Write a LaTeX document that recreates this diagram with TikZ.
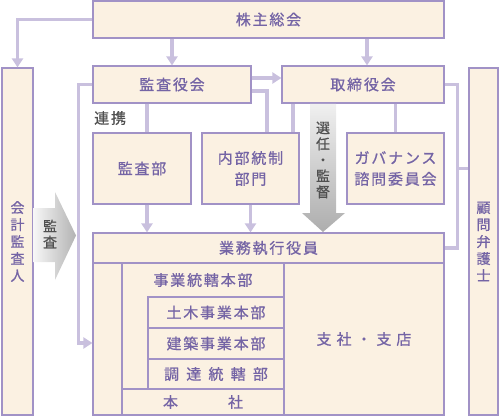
\documentclass[tikz,border=0pt]{standalone}
\usepackage{fontspec}
\newfontfamily\jp[LetterSpace=12, FakeBold=0.8]{Noto Sans CJK JP}
\newfontfamily\jpwide[LetterSpace=33, FakeBold=0.8]{Noto Sans CJK JP}
\newfontfamily\jpwider[LetterSpace=48, FakeBold=0.8]{Noto Sans CJK JP}
\usetikzlibrary{arrows.meta}
\definecolor{boxfill}{HTML}{FBF1E2}
\definecolor{boxline}{HTML}{A192C6}
\definecolor{boxtext}{HTML}{7464A5}
\definecolor{connline}{HTML}{C9C0DE}
\definecolor{notetext}{HTML}{505050}

\begin{document}
\begin{tikzpicture}[x=1pt, y=-1pt,
        box/.style={draw=boxline, fill=boxfill, line width=1.2pt, inner sep=0pt, text=boxtext, font=\jp\fontsize{15}{21}\selectfont},
        tall/.style={box, align=center, font=\jp\fontsize{14}{17}\selectfont},
        conn/.style={draw=connline, line width=3.5pt},
        arr/.style={-{Triangle[width=11pt,length=9pt]}},
        note/.style={text=notetext, inner sep=0pt, align=center, font=\jp\fontsize{14}{16}\selectfont}]
        \useasboundingbox (0,0) rectangle (500,417);

        \node[box, minimum width=351, minimum height=37](GM) at (268.5,19.5){株主総会};

        \node[box, minimum width=158, minimum height=37](ACB) at (172,84.5){監査役会};
        \node[box, right of=ACB, node distance=191pt, minimum width=162, minimum height=37](BOD){取締役会};

        \node[box, minimum width=98, minimum height=71](AUD) at (142,168.5){監査部};
        \node[box, right of=AUD, node distance=108.5pt, minimum width=97, minimum height=71, align=center](INT){内部統制\\部門};
        \node[box, right of=INT, node distance=145pt, minimum width=97, minimum height=71, align=center](GOV){ガバナンス\\諮問委員会};

        \node[tall, minimum width=31, minimum height=347](ACC) at (17.5,241.5){会\\計\\監\\査\\人};
        \node[tall, minimum width=29, minimum height=347](LAW) at (483.5,241.5){顧\\問\\弁\\護\\士};

        % executive officers
        \node[box, minimum width=351, minimum height=182](EXE) at (268.5,324){};
        \node[box, anchor=north, minimum width=351, minimum height=30](HEAD) at (EXE.north){業務執行役員};
        \node[box, minimum width=162, minimum height=126](DIV) at (203,326){};
        \node[box, draw=none, fill=none, anchor=north, minimum height=34](DIVT) at (DIV.north){事業統轄本部};
        \node[box, minimum width=136, minimum height=31](CIV) at (216,312.5){土木事業本部};
        \node[box, below of=CIV, node distance=31pt, minimum width=136, minimum height=31](ARC){建築事業本部};
        \node[box, below of=ARC, node distance=30.5pt, minimum width=136, minimum height=30](PROC){\jpwider 調達統轄部};
        \node[box, minimum width=162, minimum height=26](HQ) at (203,402){本\hspace{50pt}社};
        \node[box, minimum width=160, minimum height=152](BR) at (364,339){\jpwide 支社・支店};

        % grey block arrows
        \shade[left color=black!3, right color=black!30] (33,208) -- (55,208) -- (55,192) -- (76,235.5) -- (55,280) -- (55,262) -- (33,262) -- cycle;
        \node[note](AUDIT) at (50,234){監\\査};
        \shade[top color=black!6, bottom color=black!32] (310,104) -- (336,104) -- (336,213) -- (345,213) -- (323,232) -- (302,213) -- (310,213) -- cycle;
        \node[note](ELECT) at (323,160){選\\任\\・\\監\\督};
        \node[note, anchor=west, font=\jp\fontsize{15}{18}\selectfont](LINK) at (94,118){連携};

        \coordinate (BODIN) at ([xshift=4pt]BOD.north);
        \coordinate (AUDN) at ([xshift=5pt]AUD.north);
        \coordinate (INTR) at ([xshift=42.5pt]INT.north);
        \coordinate (RAIL) at ([xshift=13pt]HEAD.east);
        \coordinate (LEFT) at ([xshift=-14pt]ACB.west);

        \draw[conn, arr] (GM.west) -| (ACC.north);
        \draw[conn, arr] (GM.south -| ACB) -- (ACB.north);
        \draw[conn, arr] (GM.south -| BODIN) -- (BODIN);

        \draw[conn, arr] ([yshift=6.5pt]ACB.east) -- ([yshift=6.5pt]BOD.west);
        \draw[conn] ([yshift=-6.5pt]ACB.east) -| ([xshift=16.5pt]INT.north);
        \draw[conn] (AUDN |- ACB.south) -- (AUDN);
        \draw[conn] (INTR |- BOD.south) -- (INTR);
        \draw[conn] (GOV.north |- BOD.south) -- (GOV.north);

        \draw[conn, arr] (AUDN |- AUD.south) -- (AUDN |- HEAD.north);
        \draw[conn, arr] (INT.south) -- (INT.south |- HEAD.north);

        \draw[conn] (BOD.east) -| (RAIL) -- (HEAD.east);
        \draw[conn] (RAIL |- GOV.east) -- (LAW.west |- GOV.east);
        \draw[conn, arr] (ACB.west) -- (LEFT) |- ([yshift=-19pt]EXE.west);
\end{tikzpicture}
\end{document}
